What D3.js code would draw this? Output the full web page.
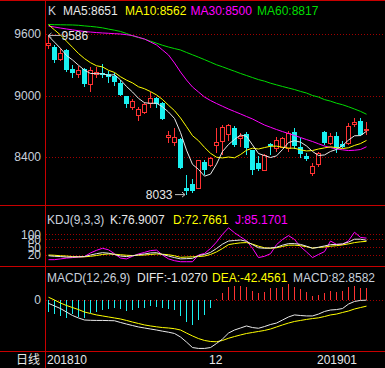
<!DOCTYPE html>
<html><head><meta charset="utf-8">
<script src="https://cdn.jsdelivr.net/npm/d3@7"></script>
<style>html,body{margin:0;padding:0;background:#000;overflow:hidden}svg{display:block}</style>
</head><body><svg id="c" width="385" height="368"></svg>
<script>
// ---------- data ----------
const openP  = [9486,9476,9353,9444,9258,9207,9256,9109,9212,9222,9207,9193,9119,8998,8891,8810,8842,8924,8979,8924,8592,8549,8576,8095,8141,8102,8354,8322,8517,8549,8621,8680,8583,8624,8468,8344,8273,8524,8485,8500,8485,8641,8500,8410,8247,8329,8641,8541,8605,8527,8534,8719,8754,8657];
const highP  = [9586,9493,9466,9454,9298,9290,9270,9275,9281,9304,9235,9215,9150,8998,8965,8891,8940,9037,8990,8940,8657,8680,8590,8224,8190,8371,8371,8400,8680,8712,8722,8700,8630,8640,8468,8410,8430,8534,8600,8600,8656,8680,8583,8440,8339,8450,8650,8630,8640,8555,8730,8778,8778,8742];
const lowP   = [9454,9314,9340,9232,9171,9171,9086,9037,9168,9174,9120,9090,8998,8875,8860,8754,8820,8875,8880,8760,8534,8507,8280,8033,8050,8085,8224,8300,8436,8420,8560,8500,8500,8424,8224,8260,8265,8420,8450,8490,8450,8480,8387,8360,8215,8305,8520,8520,8440,8490,8520,8696,8605,8615];
const closeP = [9509,9346,9412,9249,9217,9249,9109,9249,9232,9200,9174,9135,8998,8917,8946,8865,8917,8973,8924,8768,8615,8600,8290,8062,8071,8371,8273,8387,8549,8690,8712,8517,8605,8485,8273,8290,8419,8507,8566,8583,8631,8507,8436,8383,8312,8436,8534,8605,8485,8500,8702,8741,8615,8670];
const ma5  = [9580,9520,9460,9390,9347,9295,9247,9215,9213,9212,9197,9203,9152,9088,9034,8972,8929,8924,8925,8889,8839,8776,8639,8467,8328,8279,8213,8233,8330,8454,8522,8571,8615,8602,8518,8434,8414,8395,8411,8473,8541,8559,8545,8508,8454,8415,8420,8454,8474,8512,8565,8607,8609,8651];
const ma10 = [9690,9640,9590,9530,9470,9410,9360,9320,9290,9279,9246,9225,9183,9150,9123,9085,9066,9038,9006,8961,8905,8852,8781,8696,8608,8559,8494,8436,8398,8391,8400,8392,8424,8466,8486,8478,8492,8505,8506,8495,8487,8486,8470,8459,8463,8478,8489,8499,8491,8483,8490,8513,8531,8562];
const ma30 = [9678,9668,9658,9649,9640,9632,9624,9619,9614,9610,9607,9603,9600,9593,9585,9568,9551,9522,9493,9444,9395,9317,9229,9151,9083,9034,8985,8951,8922,8895,8868,8844,8820,8795,8771,8741,8712,8690,8668,8648,8629,8610,8590,8570,8551,8529,8507,8492,8478,8470,8463,8466,8473,8500];
const ma60 = [9693,9691,9690,9689,9688,9685,9679,9674,9668,9660,9648,9637,9625,9605,9582,9565,9550,9530,9510,9490,9473,9458,9444,9420,9397,9374,9350,9325,9300,9280,9258,9237,9215,9195,9175,9155,9140,9120,9104,9088,9073,9058,9040,9024,9000,8985,8960,8945,8925,8910,8890,8868,8845,8817];
const kdjK = [17,15,14,12,12,13,14,20,25,29,27,22,16,14,17,21,24,28,29,22,16,10,5,6,7,18,22,30,45,62,74,76,78,73,60,48,46,47,50,58,64,64,61,54,46,50,55,60,61,63,70,81,81,76.9007];
const kdjD = [20,19,17,16,14,13,13,15,18,22,24,23,21,19,18,19,20,22,24,23,21,17,11,12,13,14,16,22,32,45,60,64,67,68,62,54,48,46,48,53,58,58,56,52,47,49,51,54,56,59,63,68,71,72.7661];
const kdjJ = [2,2,5,8,10,12,14,28,38,46,40,25,8,5,15,24,30,37,39,20,5,-2,-6,-6,-6,20,26,45,70,100,125,106,90,75,46,10,15,25,60,80,95,80,52,32,10,22,33,74,61,61,75,108,88,85.1701];
const diff = [-23,-41,-59,-83,-107,-124,-138,-140,-141,-141,-142,-143,-155,-166,-176,-186,-193,-200,-207,-215,-222,-231,-255,-290,-328,-334,-334,-328,-300,-269,-228,-207,-193,-179,-190,-195,-183,-169,-159,-138,-117,-103,-107,-110,-110,-97,-79,-69,-66,-59,-28,-10,-3,-1.027];
const dea  = [19,0,-21,-38,-52,-66,-83,-93,-103,-110,-117,-124,-131,-141,-152,-162,-172,-179,-185,-190,-193,-198,-207,-228,-248,-266,-279,-286,-288,-279,-264,-252,-241,-231,-224,-217,-210,-200,-186,-172,-159,-148,-141,-134,-128,-123,-114,-103,-97,-86,-76,-62,-52,-42.4561];
const macd = [-81,-99,-110,-122,-99,-115,-126,-92,-85,-69,-64,-53,-64,-76,-69,-57,-53,-39,-46,-57,-62,-69,-110,-150,-172,-138,-103,-57,4,50,92,99,99,92,62,46,57,81,85,92,108,92,74,53,30,34,50,62,57,62,92,97,85,82.8582];
const priceTicks = [9600, 9000, 8400];
const kdjTicks = [100, 80, 50, 20];
const macdTicks = [0];
const dateIdx  = [0, 27, 45];
const dateText = ["201810", "12", "201901"];

// ---------- drawing ----------
const W = 385, H = 368, n = closeP.length;
const RED = "#ff3232", CYAN = "#19f0f0", FRAME = "#c80000", GRID = "#a00000";
const WHITE = "#e8e8e8", YEL = "#ffff00", MAG = "#ff00ff", GRN = "#00dc00", LBL = "#c8d0dc";
const FONT = "'Liberation Sans', Arial, sans-serif";
const svg = d3.select("#c");
svg.append("rect").attr("width", W).attr("height", H).attr("fill", "#000");

const idx = d3.range(n);
const x = d3.scaleBand().domain(idx).range([45, 45 + 6 * n]).padding(0);
const cx = i => Math.floor(x(i) + x.bandwidth() / 2) + 0.5;
const yP = d3.scaleLinear().domain([8400, 9600]).range([157, 34]);
const yK = d3.scaleLinear().domain([20, 100]).range([255, 234.3]);
const yM = d3.scaleLinear().domain([-100, 0]).range([314.5, 300]);

// grid lines
function grid(ticks, sc) {
  svg.append("g").selectAll("line").data(ticks).join("line")
    .attr("x1", 46).attr("x2", W)
    .attr("y1", d => Math.round(sc(d)) + 0.5).attr("y2", d => Math.round(sc(d)) + 0.5)
    .attr("stroke", GRID).attr("stroke-width", 1).attr("stroke-dasharray", "1,2");
}
grid(priceTicks, yP); grid(kdjTicks, yK); grid(macdTicks, yM);

// axis labels
function labels(ticks, sc) {
  svg.append("g").selectAll("text").data(ticks).join("text")
    .attr("x", 41).attr("y", d => sc(d)).attr("dy", "0.36em")
    .attr("text-anchor", "end").attr("fill", LBL)
    .attr("font-family", FONT).attr("font-size", 12).text(d => d);
}
labels(priceTicks, yP); labels(kdjTicks, yK); labels(macdTicks, yM);

// frame
const fr = svg.append("g").attr("stroke", FRAME).attr("stroke-width", 1).attr("shape-rendering", "crispEdges");
fr.append("line").attr("x1", 0).attr("x2", W).attr("y1", 0.5).attr("y2", 0.5);
[205.5, 266.5, 351.5].forEach(yy => fr.append("line").attr("x1", 0).attr("x2", W).attr("y1", yy).attr("y2", yy));
fr.append("line").attr("x1", 45.5).attr("x2", 45.5).attr("y1", 0).attr("y2", H);

// candles
const cg = svg.append("g").attr("shape-rendering", "crispEdges");
idx.forEach(i => {
  const up = closeP[i] >= openP[i];
  const c = cx(i);
  const yt = yP(Math.max(openP[i], closeP[i])), yb = yP(Math.min(openP[i], closeP[i]));
  const yh = yP(highP[i]), yl = yP(lowP[i]);
  if (up) {
    cg.append("line").attr("x1", c).attr("x2", c).attr("y1", yh).attr("y2", yt).attr("stroke", RED);
    cg.append("line").attr("x1", c).attr("x2", c).attr("y1", yb).attr("y2", yl).attr("stroke", RED);
    cg.append("rect").attr("x", c - 2).attr("y", Math.round(yt) + 0.5).attr("width", 4)
      .attr("height", Math.max(1, Math.round(yb - yt))).attr("fill", "none").attr("stroke", RED);
  } else {
    cg.append("line").attr("x1", c).attr("x2", c).attr("y1", yh).attr("y2", yl).attr("stroke", CYAN);
    cg.append("rect").attr("x", c - 2.5).attr("y", Math.round(yt)).attr("width", 5)
      .attr("height", Math.max(1, Math.round(yb - yt))).attr("fill", CYAN);
  }
});

// lines
function series(arr, sc, color) {
  svg.append("path").datum(arr)
    .attr("d", d3.line().x((d, i) => cx(i)).y(d => sc(d)))
    .attr("fill", "none").attr("stroke", color).attr("stroke-width", 1);
}
series(ma60, yP, GRN); series(ma30, yP, MAG); series(ma10, yP, YEL); series(ma5, yP, WHITE);

// KDJ
series(kdjJ, yK, MAG); series(kdjD, yK, YEL); series(kdjK, yK, WHITE);

// MACD histogram
svg.append("g").attr("shape-rendering", "crispEdges").selectAll("line").data(macd).join("line")
  .attr("x1", (d, i) => cx(i)).attr("x2", (d, i) => cx(i))
  .attr("y1", yM(0)).attr("y2", d => yM(d))
  .attr("stroke", d => d >= 0 ? RED : CYAN);
series(dea, yM, YEL); series(diff, yM, WHITE);

// high / low markers
function marker(i, val, dir) {
  const c = cx(i), yy = yP(val);
  const g = svg.append("g");
  if (dir < 0) {
    const tip = c, tail = c + 12;
    g.append("path").attr("d", `M${tip},${yy}L${tail},${yy}M${tip},${yy}L${tip + 3},${yy - 2.5}M${tip},${yy}L${tip + 3},${yy + 2.5}`)
      .attr("stroke", "#c0c0c0").attr("fill", "none");
    g.append("text").attr("x", tail + 1).attr("y", yy).attr("dy", "0.36em").attr("fill", WHITE)
      .attr("font-family", FONT).attr("font-size", 12).text(val);
  } else {
    const tip = c - 1.5, tail = c - 11.5;
    g.append("path").attr("d", `M${tail},${yy}L${tip},${yy}M${tip},${yy}L${tip - 3},${yy - 2.5}M${tip},${yy}L${tip - 3},${yy + 2.5}`)
      .attr("stroke", "#c0c0c0").attr("fill", "none");
    g.append("text").attr("x", tail - 2.5).attr("y", yy).attr("dy", "0.36em").attr("text-anchor", "end").attr("fill", WHITE)
      .attr("font-family", FONT).attr("font-size", 12).text(val);
  }
}
const hiI = d3.maxIndex(highP), loI = d3.minIndex(lowP);
marker(hiI, highP[hiI], -1);
marker(loI, lowP[loI], 1);

// titles
function txt(xx, yy, s, color, anchor) {
  svg.append("text").attr("x", xx).attr("y", yy).attr("fill", color).attr("text-anchor", anchor || "start")
    .attr("font-family", FONT).attr("font-size", 12).text(s);
}
const L = n - 1;
txt(48, 15, "K", LBL);
txt(63, 15, "MA5:" + ma5[L], WHITE);
txt(125, 15, "MA10:" + ma10[L], YEL);
txt(190.5, 15, "MA30:" + ma30[L], MAG);
txt(257, 15, "MA60:" + ma60[L], GRN);

txt(47, 224, "KDJ(9,3,3)", LBL);
txt(110, 224, "K:" + kdjK[L].toFixed(4), WHITE);
txt(173, 224, "D:" + kdjD[L].toFixed(4), YEL);
txt(235, 224, "J:" + kdjJ[L].toFixed(4), MAG);

txt(47, 282, "MACD(12,26,9)", LBL);
txt(137, 282, "DIFF:" + diff[L].toFixed(4), WHITE);
txt(212, 282, "DEA:" + dea[L].toFixed(4), YEL);
txt(293, 282, "MACD:" + macd[L].toFixed(4), LBL);

// bottom axis
svg.append("text").attr("x", 40).attr("y", 364).attr("text-anchor", "end").attr("fill", WHITE)
  .attr("font-family", "'Noto Sans CJK SC', sans-serif").attr("font-size", 12).text("日线");
dateIdx.forEach((di, k) => txt(cx(di) - 1.5, 364, dateText[k], WHITE));
</script></body></html>
